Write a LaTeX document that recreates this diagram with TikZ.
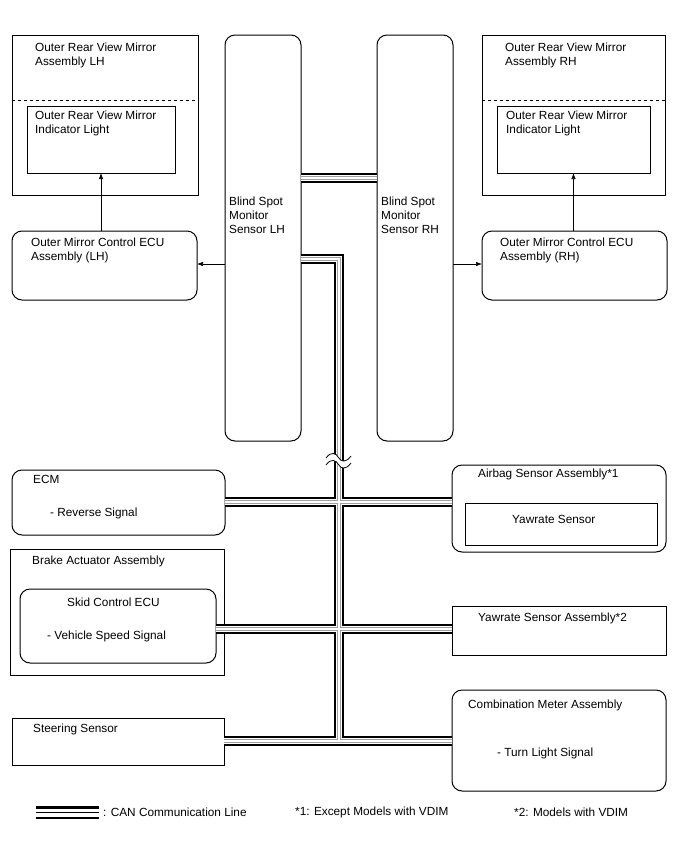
\documentclass[tikz,border=0pt]{standalone}
\usepackage{fontspec}
\setmainfont{Liberation Sans}
\usetikzlibrary{arrows.meta}
\begin{document}
\begin{tikzpicture}[x=1pt,y=-1pt,
  box/.style={draw,line width=1pt,inner sep=0pt,outer sep=0pt,anchor=north west},
  rbox/.style={box,rounded corners=10pt},
  txt/.style={inner sep=0pt,anchor=north west,align=left,font=\fontsize{11.8}{14}\selectfont},
  arr/.style={line width=0.6pt,-{Latex[length=6pt,width=4.5pt]}},
  canA/.style={line width=10.5pt,black,line join=miter},
  canB/.style={line width=6pt,white,line join=miter},
  canC/.style={line width=3.6pt,gray!75,line join=miter},
  canD/.style={line width=1.4pt,white,line join=miter}
]
\useasboundingbox (0,0) rectangle (688,852);

% top boxes
\node[box,minimum width=186pt,minimum height=160pt] (mirL) at (12,35) {};
\node[box,minimum width=148pt,minimum height=67pt] (indL) at (27,106) {};
\node[box,minimum width=183pt,minimum height=160pt] (mirR) at (482,35) {};
\node[box,minimum width=153pt,minimum height=67pt] (indR) at (497,106) {};
\draw[dashed,line width=1pt] (mirL.west |- 0,100) -- (mirL.east |- 0,100);
\draw[dashed,line width=1pt] (mirR.west |- 0,100) -- (mirR.east |- 0,100);
\node[rbox,minimum width=185pt,minimum height=69pt] (ecuL) at (12,231) {};
\node[rbox,minimum width=185pt,minimum height=69pt] (ecuR) at (482,231) {};
\node[rbox,minimum width=76pt,minimum height=406pt] (bsmL) at (225,35) {};
\node[rbox,minimum width=76pt,minimum height=406pt] (bsmR) at (377,35) {};

\node[txt] (tMirL) at (35,43) {Outer Rear View Mirror\\Assembly LH};
\node[txt] (tIndL) at (35,111) {Outer Rear View Mirror\\Indicator Light};
\node[txt] (tMirR) at (505,43) {Outer Rear View Mirror\\Assembly RH};
\node[txt] (tIndR) at (506,111) {Outer Rear View Mirror\\Indicator Light};
\node[txt] (tEcuL) at (31,238) {Outer Mirror Control ECU\\Assembly (LH)};
\node[txt] (tEcuR) at (500,238) {Outer Mirror Control ECU\\Assembly (RH)};
\node[txt] (tBsmL) at (229,197) {Blind Spot\\Monitor\\Sensor LH};
\node[txt] (tBsmR) at (381,197) {Blind Spot\\Monitor\\Sensor RH};

% bottom boxes
\node[rbox,minimum width=213pt,minimum height=65pt] (ecm) at (12,470) {};
\node[rbox,minimum width=214pt,minimum height=87pt] (air) at (452,465) {};
\node[box,minimum width=192pt,minimum height=42pt] (yawS) at (465,503) {};
\node[box,minimum width=214pt,minimum height=126pt] (brake) at (10,549) {};
\node[rbox,minimum width=196pt,minimum height=74pt] (skid) at (20,589) {};
\node[box,minimum width=214pt,minimum height=49pt] (yaw) at (452,606) {};
\node[box,minimum width=212pt,minimum height=47pt] (steer) at (12,718) {};
\node[rbox,minimum width=214pt,minimum height=101pt] (comb) at (452,690) {};

\node[txt] (tEcm) at (33,475) {ECM};
\node[txt] (tRev) at (50,508) {- Reverse Signal};
\node[txt] (tAir) at (478,469) {Airbag Sensor Assembly*1};
\node[txt] (tYawS) at (512,515) {Yawrate Sensor};
\node[txt] (tBrake) at (32,556) {Brake Actuator Assembly};
\node[txt] (tSkid) at (67,598) {Skid Control ECU};
\node[txt] (tVss) at (47,631) {- Vehicle Speed Signal};
\node[txt] (tYaw) at (478,613) {Yawrate Sensor Assembly*2};
\node[txt] (tSteer) at (33,724) {Steering Sensor};
\node[txt] (tComb) at (468,700) {Combination Meter Assembly};
\node[txt] (tTurn) at (497,748) {- Turn Light Signal};

% arrows
\draw[arr] (ecuL.north -| indL.south) -- (indL.south);
\draw[arr] (ecuR.north -| indR.south) -- (indR.south);
\draw[arr] (bsmL.west |- 0,264) -- (ecuL.east |- 0,264);
\draw[arr] (bsmR.east |- 0,264) -- (ecuR.west |- 0,264);

% CAN lines
\coordinate (tc) at (339,259);
\coordinate (bc) at (339,741);
\def\canpath{(bsmL.east |- 0,178) -- (bsmR.west |- 0,178)
  (bsmL.east |- 0,259) -- (tc) -- (bc)
  (ecm.east |- 0,502) -- (air.west |- 0,502)
  (skid.east |- 0,629) -- (yaw.west |- 0,629)
  (steer.east |- 0,741) -- (comb.west |- 0,741)}
\draw[canA] \canpath;
\draw[canB] \canpath;
\draw[canC] \canpath;
\draw[canD] \canpath;

% break mark
\fill[white] (326,458) .. controls (331,451) and (336,453) .. (338.5,457.5) .. controls (341,462) and (346,463) .. (351,456)
  -- (351,463) .. controls (346,470) and (341,469) .. (338.5,464.5) .. controls (336,460) and (331,458) .. (326,465) -- cycle;
\draw[line width=0.8pt] (326,458) .. controls (331,451) and (336,453) .. (338.5,457.5) .. controls (341,462) and (346,463) .. (351,456);
\draw[line width=0.8pt] (326,465) .. controls (331,458) and (336,460) .. (338.5,464.5) .. controls (341,469) and (346,470) .. (351,463);

% legend
\coordinate (lg1) at (36,812.5);
\coordinate (lg2) at (99,812.5);
\draw[line width=13pt] (lg1) -- (lg2);
\draw[line width=8pt,white] (lg1) -- (lg2);
\draw[line width=1.8pt] (lg1) -- (lg2);
\node[txt,anchor=west] (lgt) at (103,812.5) {: CAN Communication Line};
\node[txt,anchor=west] (n1) at (295,812.5) {*1: Except Models with VDIM};
\node[txt,anchor=west] (n2) at (514,812.5) {*2: Models with VDIM};
\end{tikzpicture}
\end{document}
